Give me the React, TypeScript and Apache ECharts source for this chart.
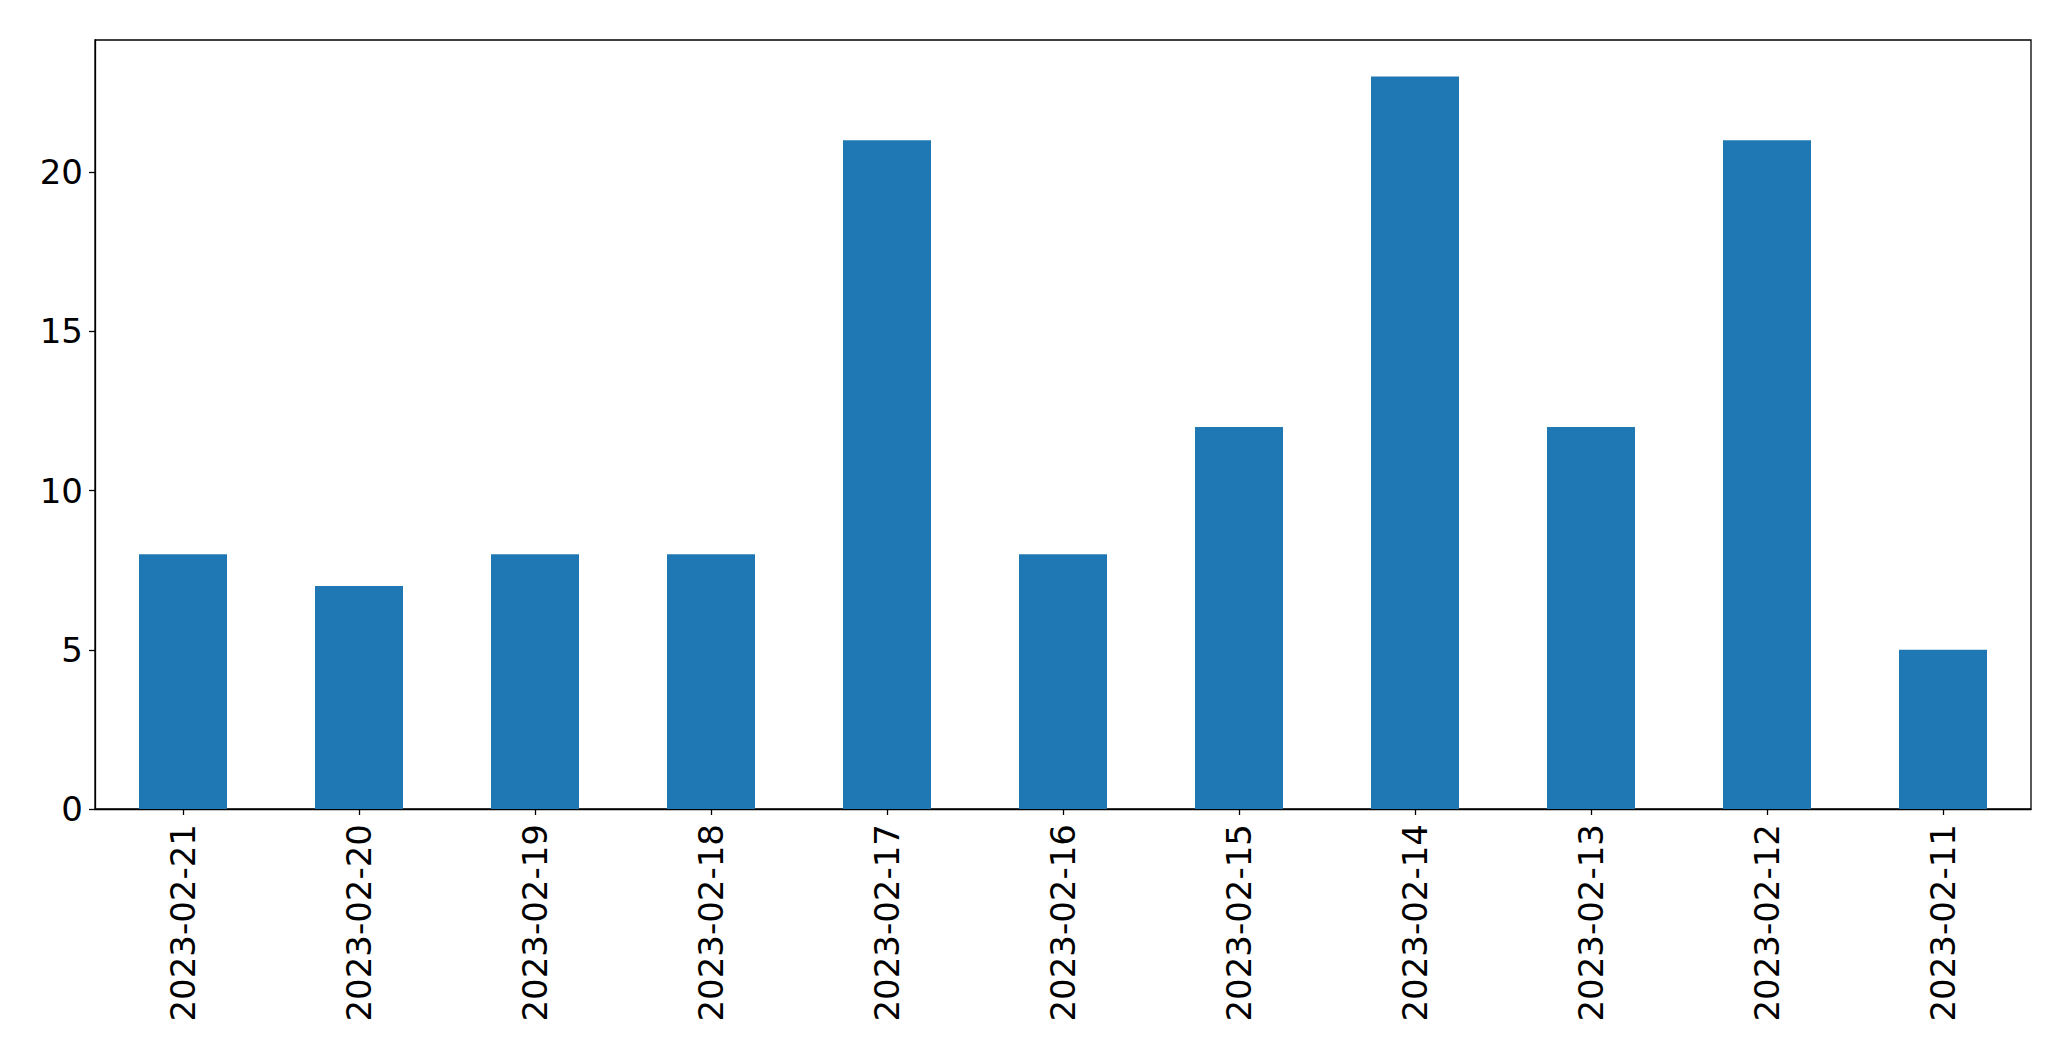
import React, { useEffect, useRef } from "react";
import * as echarts from "echarts";

const categories = [
  "2023-02-21",
  "2023-02-20",
  "2023-02-19",
  "2023-02-18",
  "2023-02-17",
  "2023-02-16",
  "2023-02-15",
  "2023-02-14",
  "2023-02-13",
  "2023-02-12",
  "2023-02-11",
];
const values = [8, 7, 8, 8, 21, 8, 12, 23, 12, 21, 5];
const yTicks = [0, 5, 10, 15, 20];

export default function App() {
  const ref = useRef<HTMLDivElement>(null);
  useEffect(() => {
    document.body.style.margin = "0";
    const chart = echarts.init(ref.current!, null, { renderer: "svg" });
    const font = "DejaVu Sans";
    chart.setOption({
      animation: false,
      backgroundColor: "#ffffff",
      grid: {
        left: 95,
        right: 40,
        top: 40,
        bottom: 252,
        show: true,
        borderColor: "#000000",
        borderWidth: 1.3,
        backgroundColor: "transparent",
      },
      xAxis: {
        type: "category",
        data: categories,
        axisLine: { show: true, lineStyle: { color: "#000000", width: 1.3 } },
        axisTick: {
          show: true,
          alignWithLabel: true,
          length: 6,
          lineStyle: { color: "#000000", width: 1.3 },
        },
        axisLabel: {
          rotate: 90,
          fontSize: 34,
          fontFamily: font,
          color: "#000000",
          margin: 15,
          interval: 0,
        },
        splitLine: { show: false },
      },
      yAxis: {
        type: "value",
        min: 0,
        max: 24.15,
        interval: 5,
        axisLine: { show: true, lineStyle: { color: "#000000", width: 1.3 } },
        axisTick: {
          show: true,
          length: 6,
          customValues: yTicks,
          lineStyle: { color: "#000000", width: 1.3 },
        },
        axisLabel: {
          fontSize: 34,
          fontFamily: font,
          color: "#000000",
          margin: 12,
          customValues: yTicks,
        },
        splitLine: { show: false },
      },
      series: [
        {
          type: "bar",
          data: values,
          barWidth: "50%",
          itemStyle: { color: "#1f77b4" },
        },
      ],
    });
    return () => chart.dispose();
  }, []);
  return <div ref={ref} style={{ width: 2071, height: 1061 }} />;
}
